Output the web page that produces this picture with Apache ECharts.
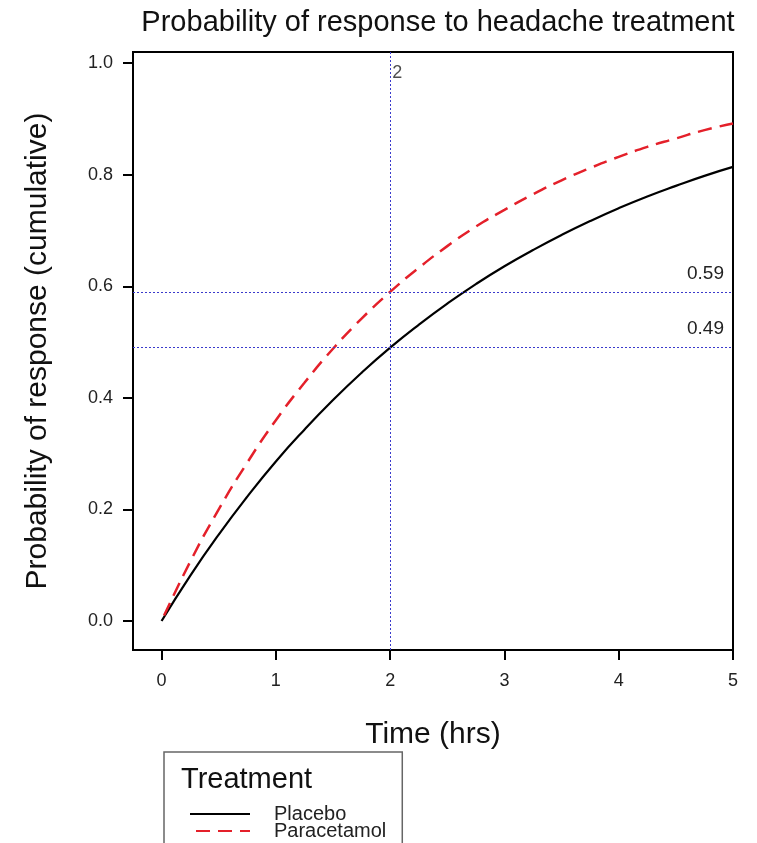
<!DOCTYPE html>
<html>
<head>
<meta charset="utf-8">
<script src="https://cdn.jsdelivr.net/npm/echarts@6/dist/echarts.min.js"></script>
<style>html,body{margin:0;padding:0;background:#fff;}#c{width:757px;height:843px;}</style>
</head>
<body>
<div id="c"></div>
<script>
// Data
const times = [0, 0.25, 0.5, 0.75, 1, 1.25, 1.5, 1.75, 2, 2.25, 2.5, 2.75, 3, 3.25, 3.5, 3.75, 4, 4.25, 4.5, 4.75, 5];
const placebo = [0, 0.081, 0.155, 0.223, 0.286, 0.343, 0.396, 0.445, 0.490, 0.531, 0.569, 0.604, 0.636, 0.665, 0.692, 0.717, 0.740, 0.761, 0.780, 0.798, 0.814];
const paracetamol = [0, 0.106, 0.200, 0.284, 0.360, 0.427, 0.488, 0.542, 0.590, 0.633, 0.672, 0.707, 0.737, 0.765, 0.790, 0.812, 0.832, 0.850, 0.865, 0.880, 0.892];
const xTicks = [0, 1, 2, 3, 4, 5];
const yTicks = [0, 0.2, 0.4, 0.6, 0.8, 1.0];
const refTime = 2;
const refPlacebo = 0.49;
const refParacetamol = 0.59;
const seriesNames = ['Placebo', 'Paracetamol'];

const FONT = 'Liberation Sans, Arial, sans-serif';
const chart = echarts.init(document.getElementById('c'), null, {renderer: 'canvas'});
const refColor = '#3a3acc';
const red = '#e4202a';

chart.setOption({
  backgroundColor: '#fff',
  animation: false,
  title: [
    {text: 'Probability of response to headache treatment', left: 433, top: 3, textAlign: 'center',
     textStyle: {fontFamily: FONT, fontSize: 29, fontWeight: 'normal', color: '#111'}},
    {text: 'Treatment', left: 176, top: 760,
     textStyle: {fontFamily: FONT, fontSize: 29, fontWeight: 'normal', color: '#111'}}
  ],
  grid: {left: 133, top: 52, right: 24, bottom: 193, show: true, borderColor: '#000', borderWidth: 2, backgroundColor: '#fff'},
  legend: {
    orient: 'vertical', left: 164, top: 752, height: 40,
    padding: [52, 16, 30, 25],
    borderColor: '#666', borderWidth: 1.5,
    itemWidth: 60, itemHeight: 12, itemGap: -3,
    itemStyle: {opacity: 0},
    textStyle: {fontFamily: FONT, fontSize: 20, color: '#222', padding: [0, 0, 0, 19]},
    data: seriesNames
  },
  xAxis: {
    type: 'value', min: -0.25, max: 5,
    name: 'Time (hrs)', nameLocation: 'middle', nameGap: 70,
    nameTextStyle: {fontFamily: FONT, fontSize: 30, color: '#111'},
    axisLine: {show: true, onZero: false, lineStyle: {color: '#000', width: 2}},
    axisTick: {show: true, length: 10, lineStyle: {color: '#000', width: 2}, customValues: xTicks},
    axisLabel: {fontFamily: FONT, fontSize: 18, color: '#222', margin: 22, customValues: xTicks, formatter: v => String(Math.round(v))},
    splitLine: {show: false}
  },
  yAxis: {
    type: 'value', min: -0.052, max: 1.02,
    name: 'Probability of response (cumulative)', nameLocation: 'middle', nameGap: 80,
    nameTextStyle: {fontFamily: FONT, fontSize: 30, color: '#111'},
    axisLine: {show: true, onZero: false, lineStyle: {color: '#000', width: 2}},
    axisTick: {show: true, length: 10, lineStyle: {color: '#000', width: 2}, customValues: yTicks},
    axisLabel: {fontFamily: FONT, fontSize: 18, color: '#222', margin: 20, customValues: yTicks, formatter: v => v.toFixed(1)},
    splitLine: {show: false}
  },
  series: [
    {
      name: seriesNames[0], type: 'line', smooth: true, showSymbol: false, symbol: 'none',
      data: times.map((t, i) => [t, placebo[i]]),
      lineStyle: {color: '#000', width: 2.2},
      itemStyle: {color: '#000'},
      z: 3,
      markLine: {
        silent: true, symbol: 'none',
        lineStyle: {color: refColor, width: 1, type: [2, 2]},
        label: {show: true, position: 'insideEndTop', fontFamily: FONT, fontSize: 19, color: '#222', distance: 9,
                formatter: p => p.value.toFixed(2)},
        data: [{yAxis: refPlacebo}, {yAxis: refParacetamol}]
      }
    },
    {
      name: seriesNames[1], type: 'line', smooth: true, showSymbol: false, symbol: 'none',
      data: times.map((t, i) => [t, paracetamol[i]]),
      lineStyle: {color: red, width: 2.5, type: [14, 8], dashOffset: -6},
      itemStyle: {color: red},
      z: 4,
      markLine: {
        silent: true, symbol: 'none',
        lineStyle: {color: refColor, width: 1, type: [2, 2]},
        label: {show: false},
        data: [{xAxis: refTime}]
      }
    },
    {
      name: 'refTimeLabel', type: 'scatter', symbolSize: 0, silent: true,
      data: [[refTime, 0.982]],
      itemStyle: {color: 'rgba(0,0,0,0)'},
      label: {show: true, position: 'right', distance: 2, fontFamily: FONT, fontSize: 18, color: '#222',
              formatter: () => String(refTime)},
      z: 5
    }
  ]
});
</script>
</body>
</html>
